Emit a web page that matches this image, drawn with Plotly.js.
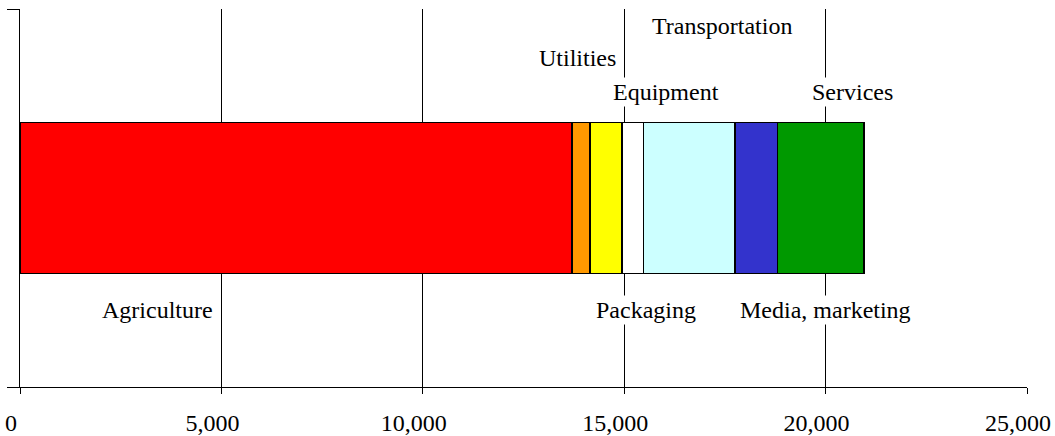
<!DOCTYPE html>
<html>
<head>
<meta charset="utf-8">
<script src="https://cdn.plot.ly/plotly-3.0.1.min.js"></script>
<style>
  html, body { margin: 0; padding: 0; background: #fff; }
  #chart { width: 1055px; height: 436px; }
</style>
</head>
<body>
<div id="chart"></div>
<script>
// ---- data ----
const categories = ["Agriculture", "Utilities", "Equipment", "Packaging", "Transportation", "Media, marketing", "Services"];
const values = [13700, 450, 800, 530, 2270, 1060, 2140];
const colors = ["#FF0000", "#FF9900", "#FFFF00", "#FFFFFF", "#CCFFFF", "#3333CC", "#009900"];
const tickValues = [0, 5000, 10000, 15000, 20000, 25000];
const rowName = ["Total"];

// ---- label placement (pixel positions on the page) ----
const labelPos = {
  "Agriculture":      {px: 157, py: 310},
  "Utilities":        {px: 577, py: 58.5},
  "Equipment":        {px: 666, py: 92},
  "Packaging":        {px: 646, py: 310},
  "Transportation":   {px: 722, py: 26},
  "Media, marketing": {px: 825, py: 310},
  "Services":         {px: 852.5, py: 92}
};

const M = {l: 20, r: 28, t: 9, b: 49};
const W = 1055, H = 436;
const plotW = W - M.l - M.r, plotH = H - M.t - M.b;
const FONT = "'Liberation Serif', 'Times New Roman', serif";

const traces = categories.map((c, i) => ({
  type: "bar",
  orientation: "h",
  name: c,
  y: rowName,
  x: [values[i]],
  marker: {color: colors[i], line: {color: "#000", width: 1.5}},
  hoverinfo: "name+x"
}));

const annotations = categories.map(c => ({
  text: c,
  xref: "paper", yref: "paper",
  x: (labelPos[c].px - M.l) / plotW,
  y: 1 - (labelPos[c].py - M.t) / plotH,
  xanchor: "center", yanchor: "middle",
  showarrow: false,
  bgcolor: "#ffffff",
  borderpad: 1,
  font: {family: FONT, size: 24, color: "#000"}
}));

const layout = {
  width: W, height: H,
  margin: M,
  paper_bgcolor: "#fff", plot_bgcolor: "#fff",
  barmode: "stack",
  bargap: 0.6,
  showlegend: false,
  font: {family: FONT, size: 24, color: "#000"},
  xaxis: {
    range: [0, 25000],
    tickvals: tickValues,
    tickformat: ",d",
    showgrid: true, gridcolor: "#000", gridwidth: 1,
    zeroline: false,
    showline: true, linecolor: "#000", linewidth: 1,
    ticks: "outside", ticklen: 6, tickcolor: "#000", tickwidth: 1,
    ticklabelshift: -9,
    ticklabelstandoff: 8,
    tickfont: {family: FONT, size: 24, color: "#000"},
    fixedrange: true
  },
  yaxis: {
    type: "category",
    tickson: "boundaries",
    ticks: "outside", ticklen: 12, tickcolor: "#000", tickwidth: 1,
    showticklabels: false,
    showgrid: false, zeroline: false,
    showline: true, linecolor: "#000", linewidth: 1,
    fixedrange: true
  },
  annotations: annotations
};

Plotly.newPlot("chart", traces, layout, {displayModeBar: false, staticPlot: true});
</script>
</body>
</html>
